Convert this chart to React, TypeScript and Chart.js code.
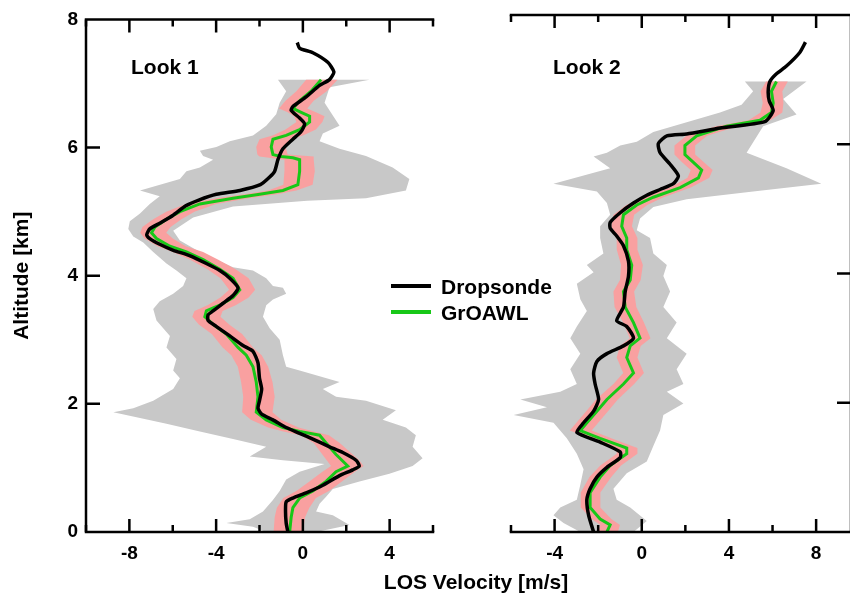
import React, { useEffect, useRef } from 'react';
import { Chart, registerables } from 'chart.js';

Chart.register(...registerables);

// ---------- axis ticks ----------
const altitudeTicks = [0, 2, 4, 6, 8];
const altitudeInnerTicks = [2, 4, 6];
const look1MajorTicks = [-8, -4, 0, 4];
const look1MinorTicks = [-10, -6, -2, 2, 6];
const look2MajorTicks = [-4, 0, 4, 8];
const look2MinorTicks = [-6, -2, 2, 6];

// ---------- Look 1 data: [velocity m/s, altitude km] ----------
const look1Dropsonde: number[][] = [
  [-0.69, 0], [-0.77, 0.14], [-0.8, 0.32], [-0.77, 0.47], [-0.46, 0.53], [0.15, 0.61], [0.92, 0.73],
  [1.69, 0.88], [2.3, 0.97], [2.6, 1.03], [2.45, 1.12], [1.84, 1.24], [1.23, 1.33], [0.46, 1.45],
  [-0.15, 1.54], [-0.77, 1.63], [-1.38, 1.75], [-1.9, 1.84], [-2.07, 1.93], [-2.0, 2.05], [-1.9, 2.23],
  [-2.0, 2.4], [-2.07, 2.64], [-2.3, 2.82], [-2.76, 2.91], [-3.37, 3.06], [-4.0, 3.21], [-4.37, 3.3],
  [-4.37, 3.39], [-4.14, 3.45], [-3.68, 3.57], [-3.22, 3.69], [-2.99, 3.81], [-3.37, 3.96], [-3.83, 4.08],
  [-4.45, 4.19], [-5.2, 4.31], [-6.0, 4.4], [-6.6, 4.49], [-7.06, 4.58], [-7.2, 4.64], [-7.06, 4.73],
  [-6.6, 4.82], [-6.0, 4.94], [-5.4, 5.09], [-4.8, 5.18], [-3.99, 5.27], [-2.9, 5.33], [-1.96, 5.42],
  [-1.53, 5.54], [-1.3, 5.63], [-1.15, 5.81], [-0.92, 5.98], [-0.46, 6.13], [-0.08, 6.25], [0.08, 6.37],
  [-0.15, 6.46], [-0.54, 6.58], [-0.46, 6.64], [0.15, 6.79], [0.77, 6.97], [1.23, 7.06], [1.43, 7.18],
  [1.15, 7.33], [0.46, 7.48], [-0.15, 7.55], [-0.26, 7.64],
];
const look1GrOAWL: number[][] = [
  [-0.61, 0], [-0.54, 0.23], [-0.46, 0.38], [-0.15, 0.53], [0.46, 0.64], [1.07, 0.79], [1.53, 0.94],
  [2.07, 1.03], [1.53, 1.21], [1.07, 1.39], [0.77, 1.51], [-0.15, 1.57], [-0.92, 1.63], [-1.69, 1.75],
  [-2.15, 1.87], [-2.07, 2.11], [-2.15, 2.34], [-2.3, 2.58], [-2.61, 2.76], [-2.99, 2.88], [-3.53, 3.09],
  [-4.14, 3.24], [-4.52, 3.36], [-4.45, 3.45], [-3.83, 3.54], [-3.22, 3.66], [-2.91, 3.78], [-3.22, 3.96],
  [-3.83, 4.1], [-4.6, 4.25], [-5.37, 4.37], [-6.13, 4.46], [-6.75, 4.58], [-6.98, 4.67], [-6.82, 4.76],
  [-6.29, 4.88], [-5.67, 5.0], [-4.75, 5.12], [-3.22, 5.21], [-1.99, 5.27], [-0.92, 5.33], [-0.23, 5.42],
  [-0.15, 5.63], [-0.15, 5.81], [-0.46, 5.84], [-1.0, 5.86], [-1.38, 5.89], [-1.46, 6.01], [-1.38, 6.13],
  [-0.77, 6.19], [-0.15, 6.28], [0.31, 6.4], [0.31, 6.49], [-0.08, 6.55], [-0.46, 6.61], [-0.15, 6.73],
  [0.38, 6.88], [0.84, 7.06],
];
// [altitude km, low m/s, high m/s]
const look1RedBand: number[][] = [
  [0, -1.35, 0.0], [0.23, -1.3, 0.1], [0.38, -1.2, 0.3], [0.53, -0.9, 0.6], [0.64, -0.3, 1.2],
  [0.79, 0.3, 1.8], [0.94, 0.9, 2.4], [1.03, 1.3, 2.8], [1.12, 1.1, 2.6], [1.21, 0.9, 2.3],
  [1.39, 0.5, 1.7], [1.51, -0.1, 1.2], [1.57, -0.9, 0.5], [1.63, -1.6, -0.2], [1.75, -2.4, -1.0],
  [1.87, -2.8, -1.4], [2.11, -2.75, -1.3], [2.34, -2.85, -1.4], [2.58, -3.0, -1.6], [2.76, -3.3, -1.9],
  [2.88, -3.7, -2.3], [3.09, -4.2, -2.8], [3.24, -4.8, -3.4], [3.36, -5.1, -3.8], [3.45, -5.0, -3.7],
  [3.54, -4.4, -3.1], [3.66, -3.8, -2.5], [3.78, -3.4, -2.2], [3.96, -3.8, -2.5], [4.1, -4.4, -3.1],
  [4.25, -5.2, -3.9], [4.37, -6.0, -4.6], [4.46, -6.7, -5.4], [4.58, -7.3, -6.0], [4.67, -7.5, -6.3],
  [4.76, -7.4, -6.1], [4.88, -6.9, -5.6], [5.0, -6.3, -5.0], [5.12, -5.4, -4.0], [5.21, -4.0, -2.5],
  [5.27, -2.7, -1.2], [5.33, -1.6, -0.3], [5.42, -0.9, 0.45], [5.63, -0.85, 0.55], [5.81, -0.85, 0.5],
  [5.86, -2.0, 0.5], [5.89, -2.1, -0.7], [6.01, -2.15, -0.8], [6.13, -2.0, -0.6], [6.19, -1.4, 0.0],
  [6.28, -0.8, 0.6], [6.4, -0.3, 0.9], [6.49, -0.4, 1.0], [6.55, -0.7, 0.6], [6.61, -1.1, 0.2],
  [6.73, -0.8, 0.5], [6.88, -0.3, 1.1], [7.06, 0.15, 1.6],
];
const look1GrayLeft: number[][] = [
  [-1.69, 0], [-2.3, 0.08], [-3.53, 0.14], [-2.45, 0.2], [-1.84, 0.32], [-1.38, 0.5], [-1.07, 0.64],
  [-0.77, 0.82], [-0.15, 0.94], [1.0, 1.06], [-0.92, 1.12], [-2.45, 1.18], [-1.69, 1.33], [-3.22, 1.45],
  [-4.75, 1.57], [-6.29, 1.69], [-7.51, 1.78], [-8.74, 1.87], [-7.82, 1.93], [-6.9, 2.05], [-5.98, 2.23],
  [-5.67, 2.4], [-5.98, 2.52], [-5.83, 2.7], [-6.29, 2.88], [-6.13, 3.06], [-6.44, 3.18], [-6.75, 3.3],
  [-6.9, 3.48], [-6.6, 3.6], [-5.98, 3.72], [-5.52, 3.84], [-5.37, 3.96], [-5.83, 4.08], [-6.29, 4.19],
  [-6.9, 4.37], [-7.36, 4.52], [-7.82, 4.61], [-8.05, 4.73], [-7.98, 4.85], [-7.51, 4.97], [-7.06, 5.12],
  [-6.6, 5.24], [-7.51, 5.33], [-5.67, 5.51], [-5.37, 5.63], [-4.75, 5.69], [-4.14, 5.81], [-4.6, 5.87],
  [-4.75, 5.95], [-3.99, 6.01], [-3.37, 6.1], [-2.3, 6.19], [-1.69, 6.34], [-1.23, 6.52], [-1.07, 6.7],
  [-0.77, 6.88], [-1.15, 7.06],
];
const look1GrayRight: number[][] = [
  [3.07, 7.06], [1.23, 6.94], [1.0, 6.7], [1.69, 6.34], [0.92, 6.22], [0.77, 6.1], [1.69, 5.98],
  [2.91, 5.87], [4.14, 5.69], [4.91, 5.51], [4.75, 5.33], [2.91, 5.21], [0.2, 5.17], [-3.22, 5.08],
  [-5.06, 4.91], [-5.98, 4.7], [-5.67, 4.55], [-4.75, 4.37], [-3.99, 4.25], [-3.22, 4.13], [-2.3, 4.08],
  [-1.69, 3.96], [-1.38, 3.84], [-0.92, 3.81], [-0.77, 3.72], [-1.38, 3.63], [-1.69, 3.54], [-1.84, 3.36],
  [-1.53, 3.18], [-1.07, 3.0], [-0.92, 2.76], [-0.77, 2.58], [-0.15, 2.52], [0.77, 2.43], [1.69, 2.34],
  [0.92, 2.23], [1.53, 2.11], [2.91, 2.05], [4.29, 1.9], [3.68, 1.75], [4.75, 1.63], [5.21, 1.51],
  [5.06, 1.33], [5.52, 1.15], [5.06, 1.03], [3.99, 0.91], [2.61, 0.79], [1.38, 0.67], [1.07, 0.55],
  [0.77, 0.44], [0.61, 0.32], [1.38, 0.26], [2.15, 0.11], [0.61, 0],
];

// ---------- Look 2 data ----------
const look2Dropsonde: number[][] = [
  [-2.21, 0], [-2.44, 0.26], [-2.52, 0.5], [-2.37, 0.67], [-2.06, 0.85], [-1.6, 1.0], [-0.99, 1.15],
  [-0.99, 1.24], [-1.91, 1.39], [-2.98, 1.54], [-2.67, 1.69], [-2.21, 1.87], [-1.98, 2.05], [-2.14, 2.29],
  [-2.21, 2.46], [-2.06, 2.64], [-1.6, 2.76], [-0.84, 2.88], [-0.38, 3.0], [-0.69, 3.18], [-1.15, 3.27],
  [-0.84, 3.48], [-0.76, 3.72], [-0.61, 3.96], [-0.61, 4.19], [-0.84, 4.43], [-1.15, 4.58], [-1.45, 4.7],
  [-1.45, 4.79], [-0.99, 4.94], [-0.38, 5.09], [0.23, 5.21], [0.84, 5.3], [1.45, 5.39], [1.68, 5.51],
  [1.3, 5.69], [0.84, 5.87], [0.76, 6.01], [1.15, 6.13], [2.06, 6.16], [3.59, 6.25], [5.65, 6.35],
  [6.03, 6.52], [5.85, 6.67], [5.8, 6.82], [5.88, 6.97], [6.18, 7.09], [6.64, 7.21], [7.25, 7.42],
  [7.51, 7.58],
];
const look2GrOAWL: number[][] = [
  [-1.6, 0], [-1.45, 0.11], [-1.91, 0.2], [-2.37, 0.38], [-2.37, 0.61], [-1.91, 0.85], [-1.45, 1.03],
  [-0.69, 1.21], [-0.69, 1.3], [-1.91, 1.45], [-2.82, 1.57], [-2.52, 1.69], [-2.06, 1.87], [-1.6, 2.05],
  [-0.84, 2.29], [-0.38, 2.46], [-0.69, 2.7], [-0.53, 2.88], [-0.08, 3.0], [-0.38, 3.24], [-0.76, 3.48],
  [-0.84, 3.72], [-0.53, 3.9], [-0.46, 4.13], [-0.69, 4.37], [-0.69, 4.55], [-0.92, 4.73], [-0.84, 4.91],
  [-0.23, 5.06], [0.53, 5.18], [1.76, 5.33], [2.6, 5.48], [2.75, 5.6], [2.37, 5.72], [1.98, 5.84],
  [1.98, 5.98], [2.52, 6.13], [3.89, 6.28], [5.42, 6.37], [5.95, 6.49], [6.03, 6.64], [5.95, 6.82],
  [6.18, 6.97],
];
const look2RedBand: number[][] = [
  [0, -2.0, -1.1], [0.11, -1.9, -1.0], [0.2, -2.3, -1.4], [0.38, -2.8, -1.9], [0.61, -2.8, -1.9],
  [0.85, -2.4, -1.4], [1.03, -1.9, -0.95], [1.21, -1.15, -0.2], [1.3, -1.15, -0.2], [1.45, -2.4, -1.4],
  [1.57, -3.3, -2.3], [1.69, -3.0, -2.0], [1.87, -2.55, -1.55], [2.05, -2.1, -1.1], [2.29, -1.3, -0.35],
  [2.46, -0.85, 0.1], [2.7, -1.15, -0.2], [2.88, -1.0, -0.05], [3.0, -0.55, 0.4], [3.24, -0.85, 0.1],
  [3.48, -1.25, -0.25], [3.72, -1.3, -0.35], [3.9, -1.0, -0.05], [4.13, -0.95, 0.05], [4.37, -1.15, -0.2],
  [4.55, -1.15, -0.2], [4.73, -1.4, -0.45], [4.91, -1.3, -0.35], [5.06, -0.7, 0.25], [5.18, 0.05, 1.0],
  [5.33, 1.3, 2.25], [5.48, 2.1, 3.1], [5.6, 2.25, 3.25], [5.72, 1.85, 2.85], [5.84, 1.5, 2.45],
  [5.98, 1.5, 2.45], [6.13, 2.05, 3.0], [6.28, 3.4, 4.4], [6.37, 4.9, 5.9], [6.49, 5.45, 6.45],
  [6.64, 5.55, 6.5], [6.82, 5.45, 6.45], [6.97, 5.7, 6.7],
];
const look2GrayLeft: number[][] = [
  [-2.82, 0], [-3.59, 0.14], [-4.05, 0.26], [-3.74, 0.38], [-2.98, 0.5], [-2.82, 0.73], [-2.67, 0.97],
  [-2.98, 1.21], [-3.44, 1.45], [-4.05, 1.69], [-5.88, 1.81], [-4.35, 1.93], [-5.57, 2.05], [-3.74, 2.17],
  [-2.98, 2.29], [-3.28, 2.52], [-2.82, 2.76], [-3.28, 3.0], [-2.98, 3.18], [-2.52, 3.42], [-2.82, 3.6],
  [-2.98, 3.84], [-2.21, 4.02], [-2.52, 4.13], [-1.76, 4.31], [-1.91, 4.55], [-1.91, 4.73], [-1.45, 4.91],
  [-1.6, 5.09], [-2.06, 5.27], [-4.05, 5.39], [-1.45, 5.63], [-2.21, 5.81], [-1.6, 5.87], [-0.99, 5.98],
  [-0.23, 6.04], [0.53, 6.19], [2.06, 6.34], [3.59, 6.49], [4.58, 6.61], [5.11, 6.82], [4.73, 6.97],
];
const look2GrayRight: number[][] = [
  [7.56, 6.97], [6.49, 6.7], [7.1, 6.46], [5.57, 6.28], [4.81, 5.87], [6.64, 5.63], [8.24, 5.39],
  [5.11, 5.27], [2.06, 5.15], [0.53, 5.03], [-0.08, 4.85], [-0.23, 4.67], [0.38, 4.55], [0.53, 4.31],
  [1.15, 4.13], [0.99, 3.96], [1.3, 3.72], [0.99, 3.48], [1.6, 3.24], [1.15, 3.0], [2.06, 2.76],
  [1.6, 2.52], [1.91, 2.29], [1.15, 2.17], [1.91, 1.99], [0.99, 1.81], [0.84, 1.57], [0.53, 1.33],
  [0.23, 1.09], [-0.69, 0.91], [-1.3, 0.67], [-1.15, 0.5], [-0.53, 0.38], [0.23, 0.17], [-0.38, 0],
];

// ---------- styles ----------
const FONT = '"Liberation Sans", Arial, sans-serif';
const GRAY = 'rgb(200,200,200)';
const PINK = 'rgb(249,160,160)';
const GREEN = 'rgb(24,200,24)';
const BLACK = '#000';

type Panel = {
  dropsonde: number[][];
  groawl: number[][];
  red: number[][];
  grayLeft: number[][];
  grayRight: number[][];
  min: number;
  max: number;
  majors: number[];
  minors: number[];
  showY: boolean;
  leftLine: boolean;
  rightLine: boolean;
  padding: { left: number; right: number; top: number; bottom: number };
};

const toPts = (arr: number[][]) => arr.map(([v, h]) => ({ x: v, y: h }));

function bandPolygon(red: number[][]) {
  const lower = red.map(([h, lo]) => ({ x: lo, y: h }));
  const upper = red.slice().reverse().map(([h, , hi]) => ({ x: hi, y: h }));
  return lower.concat(upper);
}

function grayPolygon(left: number[][], right: number[][]) {
  return toPts(left).concat(toPts(right));
}

function framePlugin(p: Panel) {
  return {
    id: 'frame',
    afterDraw(chart: any) {
      const { ctx, chartArea: a, scales } = chart;
      const xs = scales.x;
      const ys = scales.y;
      ctx.save();
      ctx.strokeStyle = BLACK;
      ctx.lineWidth = 2.5;
      ctx.lineCap = 'square';
      ctx.beginPath();
      ctx.moveTo(a.left, a.bottom);
      ctx.lineTo(a.right, a.bottom);
      ctx.moveTo(a.left, a.top);
      ctx.lineTo(a.right, a.top);
      if (p.leftLine) {
        ctx.moveTo(a.left, a.top);
        ctx.lineTo(a.left, a.bottom);
      }
      if (p.rightLine) {
        ctx.moveTo(a.right, a.top);
        ctx.lineTo(a.right, a.bottom);
      }
      ctx.stroke();
      ctx.lineCap = 'butt';
      ctx.beginPath();
      p.majors.forEach((v) => {
        const px = xs.getPixelForValue(v);
        ctx.moveTo(px, a.bottom);
        ctx.lineTo(px, a.bottom - 13);
        ctx.moveTo(px, a.top);
        ctx.lineTo(px, a.top + 13);
      });
      p.minors.forEach((v) => {
        const px = xs.getPixelForValue(v);
        ctx.moveTo(px, a.bottom);
        ctx.lineTo(px, a.bottom - 7);
        ctx.moveTo(px, a.top);
        ctx.lineTo(px, a.top + 7);
      });
      altitudeInnerTicks.forEach((h) => {
        const py = ys.getPixelForValue(h);
        if (p.leftLine) {
          ctx.moveTo(a.left, py);
          ctx.lineTo(a.left + 14, py);
        }
        if (p.rightLine) {
          ctx.moveTo(a.right, py);
          ctx.lineTo(a.right - 14, py);
        }
      });
      ctx.stroke();
      ctx.restore();
    },
  };
}

function makeConfig(p: Panel): any {
  const tickFont = { family: FONT, size: 19, weight: 'bold' as const };
  return {
    type: 'scatter',
    data: {
      datasets: [
        {
          label: 'Dropsonde',
          data: toPts(p.dropsonde),
          showLine: true,
          borderColor: BLACK,
          borderWidth: 3.5,
          pointRadius: 0,
          fill: false,
          tension: 0.2,
          order: 0,
        },
        {
          label: 'GrOAWL',
          data: toPts(p.groawl),
          showLine: true,
          borderColor: GREEN,
          borderWidth: 3,
          pointRadius: 0,
          fill: false,
          tension: 0,
          order: 1,
        },
        {
          label: 'red band',
          data: bandPolygon(p.red),
          showLine: true,
          borderColor: 'rgba(0,0,0,0)',
          borderWidth: 0,
          backgroundColor: PINK,
          pointRadius: 0,
          fill: 'shape',
          tension: 0,
          order: 2,
        },
        {
          label: 'gray band',
          data: grayPolygon(p.grayLeft, p.grayRight),
          showLine: true,
          borderColor: 'rgba(0,0,0,0)',
          borderWidth: 0,
          backgroundColor: GRAY,
          pointRadius: 0,
          fill: 'shape',
          tension: 0,
          order: 3,
        },
      ],
    },
    options: {
      responsive: false,
      animation: false,
      events: [],
      layout: { padding: p.padding },
      plugins: { legend: { display: false }, tooltip: { enabled: false } },
      scales: {
        x: {
          type: 'linear',
          min: p.min,
          max: p.max,
          grid: { display: false, drawTicks: false },
          border: { display: false },
          ticks: { font: tickFont, color: BLACK, padding: 10, autoSkip: false, maxRotation: 0 },
          afterBuildTicks: (s: any) => {
            s.ticks = p.majors.map((v) => ({ value: v }));
          },
          afterFit: (s: any) => {
            s.height = 71;
          },
        },
        y: {
          type: 'linear',
          display: p.showY,
          min: 0,
          max: 8,
          grid: { display: false, drawTicks: false },
          border: { display: false },
          ticks: { font: tickFont, color: BLACK, padding: 8 },
          afterBuildTicks: (s: any) => {
            s.ticks = altitudeTicks.map((v) => ({ value: v }));
          },
          title: {
            display: true,
            text: 'Altitude [km]',
            color: BLACK,
            font: { family: FONT, size: 21, weight: 'bold' },
            padding: { top: 10, bottom: 0 },
          },
          afterFit: (s: any) => {
            s.width = p.showY ? 86 : 0;
          },
        },
      },
    },
    plugins: [framePlugin(p)],
  };
}

const panel1: Panel = {
  dropsonde: look1Dropsonde,
  groawl: look1GrOAWL,
  red: look1RedBand,
  grayLeft: look1GrayLeft,
  grayRight: look1GrayRight,
  min: -10,
  max: 6,
  majors: look1MajorTicks,
  minors: look1MinorTicks,
  showY: true,
  leftLine: true,
  rightLine: false,
  padding: { left: 0, right: 17, top: 15, bottom: 0 },
};

const panel2: Panel = {
  dropsonde: look2Dropsonde,
  groawl: look2GrOAWL,
  red: look2RedBand,
  grayLeft: look2GrayLeft,
  grayRight: look2GrayRight,
  min: -6,
  max: 9.6,
  majors: look2MajorTicks,
  minors: look2MinorTicks,
  showY: false,
  leftLine: false,
  rightLine: true,
  padding: { left: 31, right: 29, top: 15, bottom: 0 },
};

function PanelChart({ panel, left, width }: { panel: Panel; left: number; width: number }) {
  const ref = useRef<HTMLCanvasElement | null>(null);
  useEffect(() => {
    if (!ref.current) return;
    const chart = new Chart(ref.current, makeConfig(panel));
    return () => chart.destroy();
  }, [panel]);
  return (
    <canvas
      ref={ref}
      width={width}
      height={603}
      style={{ position: 'absolute', left, top: 0, width, height: 603 }}
    />
  );
}

const textStyle: React.CSSProperties = {
  position: 'absolute',
  fontFamily: FONT,
  fontWeight: 'bold',
  fontSize: 21,
  lineHeight: '21px',
  color: '#000',
  whiteSpace: 'nowrap',
};

export default function App() {
  return (
    <div
      style={{
        position: 'absolute',
        left: 0,
        top: 0,
        width: 850,
        height: 603,
        overflow: 'hidden',
        background: '#fff',
      }}
    >
      <PanelChart panel={panel1} left={0} width={450} />
      <PanelChart panel={panel2} left={480} width={400} />
      <div style={{ ...textStyle, left: 131, top: 56 }}>Look 1</div>
      <div style={{ ...textStyle, left: 553, top: 56 }}>Look 2</div>
      <div style={{ position: 'absolute', left: 391, top: 284, width: 40, height: 4, background: BLACK }} />
      <div style={{ position: 'absolute', left: 391, top: 310, width: 40, height: 4, background: GREEN }} />
      <div style={{ ...textStyle, left: 441, top: 276 }}>Dropsonde</div>
      <div style={{ ...textStyle, left: 441, top: 302 }}>GrOAWL</div>
      <div style={{ ...textStyle, left: 476, top: 571, transform: 'translateX(-50%)' }}>LOS Velocity [m/s]</div>
    </div>
  );
}
